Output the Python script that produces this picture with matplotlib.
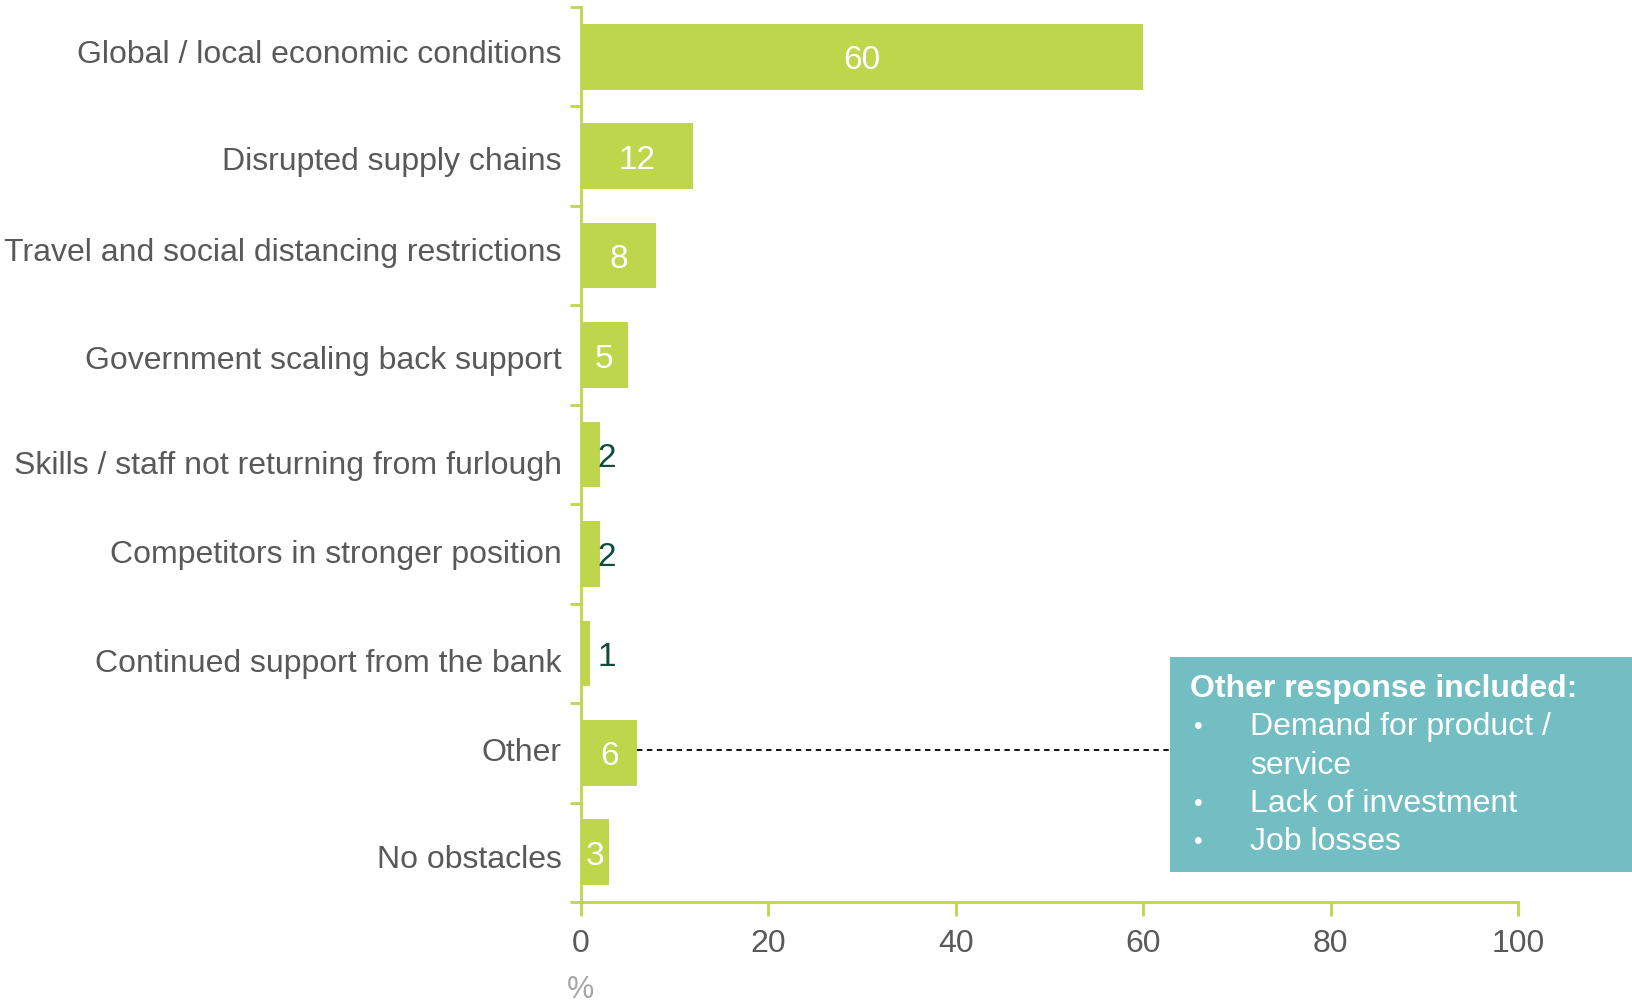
import matplotlib
matplotlib.use("Agg")
import matplotlib.pyplot as plt
from matplotlib.patches import Rectangle
from matplotlib.transforms import ScaledTranslation

plt.rcParams['font.family'] = ['Liberation Sans', 'DejaVu Sans']

categories = [
    "Global / local economic conditions",
    "Disrupted supply chains",
    "Travel and social distancing restrictions",
    "Government scaling back support",
    "Skills / staff not returning from furlough",
    "Competitors in stronger position",
    "Continued support from the bank",
    "Other",
    "No obstacles",
]
values = [60, 12, 8, 5, 2, 2, 1, 6, 3]
xticks = [0, 20, 40, 60, 80, 100]
box_title = "Other response included:"
box_items = ["Demand for product /\nservice", "Lack of investment", "Job losses"]

GREEN = "#BDD64B"
DARK = "#0E4D3F"
GRAY = "#595959"
TEAL = "#72BEC3"

W, H = 1633, 1003
fig = plt.figure(figsize=(W / 100, H / 100), dpi=100)
ax_l, ax_r = 581 / W, 1518 / W
ax_b, ax_t = 1 - 903 / H, 1 - 8 / H
ax = fig.add_axes([ax_l, ax_b, ax_r - ax_l, ax_t - ax_b])

n = len(categories)
ypos = list(range(n - 1, -1, -1))
ax.barh(ypos, values, height=0.66, color=GREEN, edgecolor="none", zorder=2)

ax.set_xlim(0, 100)
ax.set_ylim(-0.5, n - 0.5)
ax.set_xticks(xticks)
ax.set_xticklabels([str(t) for t in xticks], fontsize=23, color=GRAY)
ax.set_yticks(ypos)
ax.set_yticklabels(categories, fontsize=23, color=GRAY)
ax.set_yticks([i - 0.5 for i in range(n + 1)], minor=True)
ax.tick_params(axis='y', which='major', length=0, pad=14)
ax.tick_params(axis='y', which='minor', length=8, width=2, color=GREEN, direction='out')
ax.tick_params(axis='x', which='major', length=10, width=2, color=GREEN, pad=9)

# small vertical offsets of the category labels (pixels, positive = down)
label_shift = [-6, 1, -7, 1, 7, -3, 6, -4, 3]
for lbl, dy in zip(ax.get_yticklabels(), label_shift):
    lbl.set_transform(lbl.get_transform() + ScaledTranslation(0, -dy * 1.04 / 100, fig.dpi_scale_trans))

for s in ['top', 'right']:
    ax.spines[s].set_visible(False)
for s in ['left', 'bottom']:
    ax.spines[s].set_color(GREEN)
    ax.spines[s].set_linewidth(2)

for y, v in zip(ypos, values):
    if v >= 3:
        ax.text(v / 2, y - 0.03, str(v), ha='center', va='center', color='white', fontsize=24)
    else:
        ax.text(max(v, 2) + 0.75, y - 0.03, str(v), ha='center', va='center', color=DARK, fontsize=24)

fig.text(581 / W, 1 - 990 / H, "%", ha='center', va='center', color="#A6A6A6", fontsize=22)

# annotation box
bx0, by0, bx1, by1 = 1170, 658, 1640, 873
fig.patches.append(Rectangle((bx0 / W, 1 - by1 / H), (bx1 - bx0) / W, (by1 - by0) / H,
                             transform=fig.transFigure, facecolor=TEAL, edgecolor='none', zorder=5))
x_box_data = (bx0 / W - ax_l) / (ax_r - ax_l) * 100
other_y = ypos[categories.index("Other")]
other_v = values[categories.index("Other")]
ax.plot([other_v, x_box_data], [other_y + 0.03, other_y + 0.03], color='black', lw=1.3,
        ls=(0, (3, 2.5)), zorder=1, clip_on=False)

fig.text(1190 / W, 1 - 689 / H, box_title, ha='left', va='center', color='white',
         fontsize=23, fontweight='bold', zorder=6)
line_ys = [727, 804, 842]
for ly, item in zip(line_ys, box_items):
    fig.text(1194 / W, 1 - ly / H, "\u2022", ha='left', va='center', color='white', fontsize=18, zorder=6)
    for k, ln in enumerate(item.split("\n")):
        fig.text(1250 / W, 1 - (ly + 38.5 * k) / H, ln, ha='left', va='center', color='white',
                 fontsize=23, zorder=6)

fig.savefig("out.png", dpi=100)
